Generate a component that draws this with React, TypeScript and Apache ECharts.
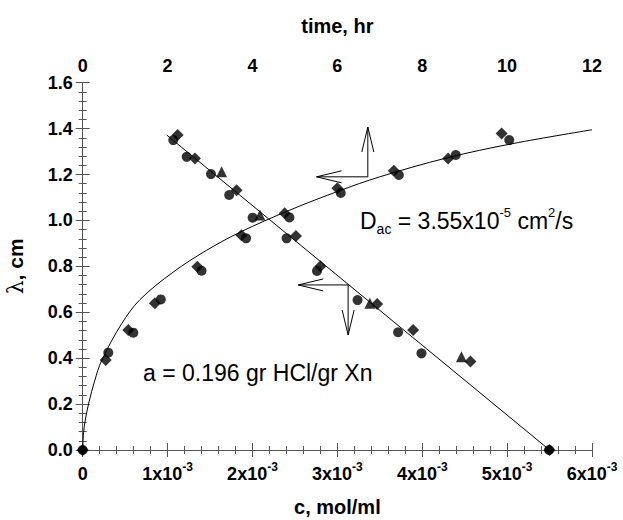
import React, { useEffect, useRef } from "react";
import * as echarts from "echarts";

// ---- data ----
// bottom axis: c (mol/ml, in units of 1e-3); top axis: time (hr); y: lambda (cm)
const cTickStep = 1e-3;
const timeTickStep = 2;
const lambdaTickStep = 0.2;

// fitted straight line  lambda vs c
const fitC = [0.99, 5.5];
const fitLambda = [1.372, 0];

// fitted curve lambda vs time
const curveTime = [0, 0.02, 0.06, 0.15, 0.28, 0.447, 0.918, 1.349, 2.133, 2.92, 3.7, 4.88, 6.06, 7.0, 8.57, 10.14, 12];
const curveLambda = [0, 0.075, 0.13, 0.21, 0.3, 0.39, 0.55, 0.655, 0.775, 0.87, 0.948, 1.045, 1.13, 1.19, 1.272, 1.335, 1.395];

// lambda vs c markers
const cCircles: [number, number][] = [
  [0, 0], [1.067, 1.35], [1.225, 1.277], [1.511, 1.202], [1.726, 1.111], [2.002, 1.012], [2.402, 0.922],
  [2.76, 0.78], [3.238, 0.653], [3.716, 0.513], [3.991, 0.421], [5.494, 0],
];
const cDiamonds: [number, number][] = [
  [0, 0], [1.118, 1.372], [1.322, 1.27], [1.813, 1.132], [2.512, 0.932], [2.8, 0.8], [3.469, 0.636],
  [3.893, 0.523], [4.568, 0.385], [5.5, 0],
];
const cTriangles: [number, number][] = [
  [1.637, 1.212], [2.088, 1.024], [3.383, 0.639], [4.462, 0.406],
];

// lambda vs time markers
const tCircles: [number, number][] = [
  [0.603, 0.424], [1.192, 0.511], [1.84, 0.656], [2.8, 0.781], [3.85, 0.922], [4.87, 1.013],
  [6.08, 1.12], [7.45, 1.198], [8.79, 1.285], [10.05, 1.35],
];
const tDiamonds: [number, number][] = [
  [0.542, 0.392], [1.074, 0.523], [1.7, 0.639], [2.7, 0.798], [3.74, 0.936], [4.76, 1.031],
  [6.0, 1.14], [7.33, 1.216], [8.61, 1.27], [9.87, 1.379],
];

// arrows, in (c x1e-3, lambda)
const upperArrow = { tip: [2.755, 1.19], corner: [3.359, 1.19], end: [3.359, 1.407] };
const lowerArrow = { tip: [2.539, 0.719], corner: [3.127, 0.719], end: [3.127, 0.501] };

const FONT = "'Liberation Sans', Arial, Helvetica, sans-serif";
const AX = "#555";

export default function App() {
  const ref = useRef<HTMLDivElement>(null);
  useEffect(() => {
    if (!ref.current) return;
    const chart = echarts.init(ref.current, undefined, { renderer: "svg" });
    const toC = (p: [number, number]) => [p[0] * 1e-3, p[1]];
    const tickStyle = { inside: true, length: 7, lineStyle: { color: AX, width: 1 } };
    const minorStyle = { show: true, splitNumber: 5, length: 4, lineStyle: { color: AX, width: 1 } };
    const lineStyle = { show: true, lineStyle: { color: AX, width: 1 } };
    const labelRich = {
      b: { fontSize: 18, fontWeight: "bold", fontFamily: FONT, color: "#000", lineHeight: 22, verticalAlign: "bottom" },
      s: { fontSize: 12, fontWeight: "bold", fontFamily: FONT, color: "#000", lineHeight: 12, verticalAlign: "top" },
    };
    chart.setOption({
      animation: false,
      grid: { left: 82.7, right: 31, top: 82.7, bottom: 70, containLabel: false, outerBoundsMode: "none" },
      xAxis: [
        {
          type: "value", position: "bottom", min: 0, max: 0.006, interval: cTickStep,
          name: "c, mol/ml", nameLocation: "middle", nameGap: 47,
          nameTextStyle: { fontSize: 20, fontWeight: "bold", fontFamily: FONT, color: "#000" },
          axisLine: lineStyle, axisTick: tickStyle, minorTick: minorStyle, splitLine: { show: false },
          axisLabel: {
            margin: 11,
            formatter: (v: number) => (v === 0 ? "{b|0}" : `{b|${Math.round(v * 1000)}x10}{s|-3}`),
            rich: labelRich,
          },
        },
        {
          type: "value", position: "top", min: 0, max: 12, interval: timeTickStep,
          name: "time, hr", nameLocation: "middle", nameGap: 47,
          nameTextStyle: { fontSize: 20, fontWeight: "bold", fontFamily: FONT, color: "#000" },
          axisLine: lineStyle, axisTick: tickStyle, minorTick: minorStyle, splitLine: { show: false },
          axisLabel: { margin: 8, fontSize: 18, fontWeight: "bold", fontFamily: FONT, color: "#000" },
        },
      ],
      yAxis: [
        {
          type: "value", position: "left", min: 0, max: 1.6, interval: lambdaTickStep,
          name: "{l|λ}{t|, cm}", nameLocation: "middle", nameGap: 56, nameRotate: 90,
          nameTextStyle: {
            fontSize: 21, fontWeight: "bold", fontFamily: FONT, color: "#000",
            rich: {
              l: { fontSize: 22, fontFamily: "'DejaVu Serif', 'Liberation Serif', serif", fontWeight: "normal", color: "#000" },
              t: { fontSize: 21, fontWeight: "bold", fontFamily: FONT, color: "#000" },
            },
          },
          axisLine: lineStyle, axisTick: tickStyle, minorTick: minorStyle, splitLine: { show: false },
          axisLabel: { margin: 10, fontSize: 18, fontWeight: "bold", fontFamily: FONT, color: "#000", formatter: (v: number) => v.toFixed(1) },
        },
        {
          type: "value", position: "right", min: 0, max: 1.6, interval: lambdaTickStep,
          axisLine: lineStyle, axisTick: tickStyle, minorTick: minorStyle, splitLine: { show: false },
          axisLabel: { show: false },
        },
      ],
      series: [
        {
          type: "line", xAxisIndex: 1, yAxisIndex: 0, smooth: 0.35, showSymbol: false,
          lineStyle: { color: "#000", width: 1 },
          data: curveTime.map((t, i) => [t, curveLambda[i]]),
        },
        {
          type: "line", xAxisIndex: 0, yAxisIndex: 0, showSymbol: false,
          lineStyle: { color: "#000", width: 1 },
          data: fitC.map((c, i) => [c * 1e-3, fitLambda[i]]),
        },
        { type: "scatter", xAxisIndex: 0, symbol: "diamond", symbolSize: 12, itemStyle: { color: "#000" }, data: cDiamonds.map(toC) },
        { type: "scatter", xAxisIndex: 0, symbol: "triangle", symbolSize: 11, itemStyle: { color: "#000" }, data: cTriangles.map(toC) },
        { type: "scatter", xAxisIndex: 0, symbol: "circle", symbolSize: 10, itemStyle: { color: "#000" }, data: cCircles.map(toC) },
        { type: "scatter", xAxisIndex: 1, symbol: "diamond", symbolSize: 12, itemStyle: { color: "#000" }, data: tDiamonds },
        { type: "scatter", xAxisIndex: 1, symbol: "circle", symbolSize: 10, itemStyle: { color: "#000" }, data: tCircles },
      ],
    });

    const px = (p: number[]) => chart.convertToPixel({ xAxisIndex: 0, yAxisIndex: 0 }, [p[0] * 1e-3, p[1]]) as number[];
    const arrowGraphics = (a: { tip: number[]; corner: number[]; end: number[] }, down: boolean) => {
      const tip = px(a.tip), corner = px(a.corner), end = px(a.end);
      const s = { stroke: "#000", lineWidth: 1, fill: "none" };
      const vy = down ? -25 : 25;
      return [
        { type: "polyline", shape: { points: [tip, corner, end] }, style: s },
        { type: "polyline", shape: { points: [[tip[0] + 25, tip[1] - 6], tip, [tip[0] + 25, tip[1] + 6]] }, style: s },
        { type: "polyline", shape: { points: [[end[0] - 6, end[1] + vy], end, [end[0] + 6, end[1] + vy]] }, style: s },
      ];
    };
    const annRich = {
      n: { fontSize: 23, fontFamily: FONT, color: "#000", lineHeight: 30, verticalAlign: "middle" },
      sup: { fontSize: 13, fontFamily: FONT, color: "#000", lineHeight: 13, verticalAlign: "top" },
      sub: { fontSize: 14, fontFamily: FONT, color: "#000", lineHeight: 14, verticalAlign: "bottom" },
    };
    chart.setOption({
      graphic: [
        ...arrowGraphics(upperArrow, false),
        ...arrowGraphics(lowerArrow, true),
        {
          type: "text", x: 360, y: 221,
          style: { text: "{n|D}{sub|ac}{n| = 3.55x10}{sup|-5}{n| cm}{sup|2}{n|/s}", rich: annRich, verticalAlign: "middle", align: "left" },
        },
        {
          type: "text", x: 143, y: 373,
          style: { text: "{n|a = 0.196 gr HCl/gr Xn}", rich: annRich, verticalAlign: "middle", align: "left" },
        },
      ],
    });
    return () => chart.dispose();
  }, []);
  return <div ref={ref} style={{ position: "fixed", left: 0, top: 0, width: 623, height: 520, background: "#fff" }} />;
}
